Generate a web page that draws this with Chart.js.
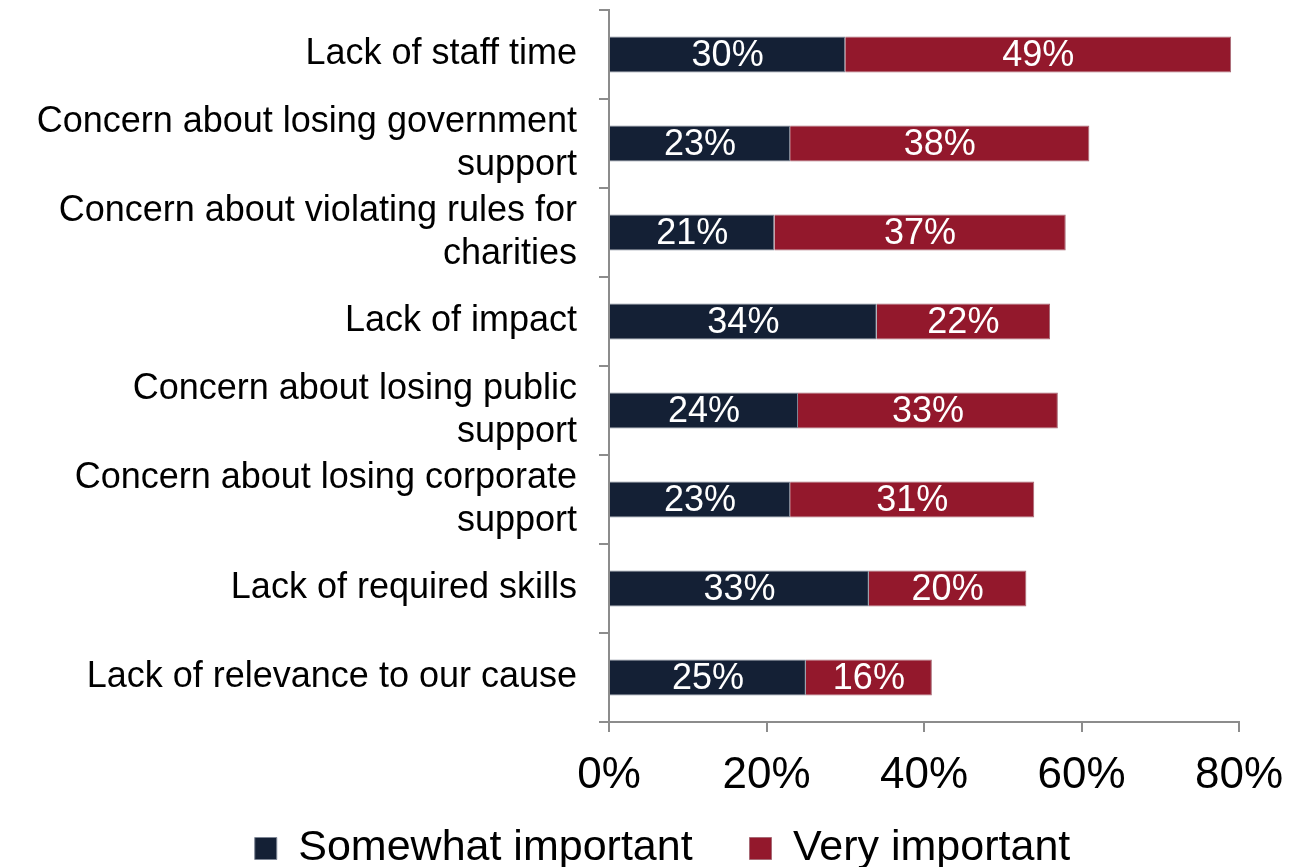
<!DOCTYPE html>
<html>
<head>
<meta charset="utf-8">
<script src="https://cdn.jsdelivr.net/npm/chart.js@4.4.1/dist/chart.umd.min.js"></script>
<style>
  html, body { margin: 0; padding: 0; background: #fff; }
  #wrap { width: 1294px; height: 867px; position: relative; }
</style>
</head>
<body>
<div id="wrap"><canvas id="c"></canvas></div>
<script>
const categories = [
  "Lack of staff time",
  ["Concern about losing government", "support"],
  ["Concern about violating rules for", "charities"],
  "Lack of impact",
  ["Concern about losing public", "support"],
  ["Concern about losing corporate", "support"],
  "Lack of required skills",
  "Lack of relevance to our cause"
];
const somewhatImportant = [30, 23, 21, 34, 24, 23, 33, 25];
const veryImportant = [49, 38, 37, 22, 33, 31, 20, 16];
const seriesNames = ["Somewhat important", "Very important"];
const xTicks = [0, 20, 40, 60, 80];

const FONT = "'Liberation Sans', Arial, sans-serif";
const NAVY = "#142035";
const RED = "#93182C";
const AXIS = "#8c8c8c";

const barLabels = {
  id: 'barLabels',
  afterDatasetsDraw(chart) {
    const ctx = chart.ctx;
    ctx.save();
    ctx.fillStyle = '#ffffff';
    ctx.font = "36px " + FONT;
    ctx.textAlign = 'center';
    ctx.textBaseline = 'middle';
    chart.data.datasets.forEach((ds, di) => {
      const meta = chart.getDatasetMeta(di);
      meta.data.forEach((el, i) => {
        const p = el.getCenterPoint();
        ctx.fillText(ds.data[i] + '%', p.x, p.y + 2);
      });
    });
    ctx.restore();
  }
};

new Chart(document.getElementById('c'), {
  type: 'bar',
  data: {
    labels: categories,
    datasets: [
      { label: seriesNames[0], data: somewhatImportant, backgroundColor: NAVY, borderColor: '#7d8594', borderWidth: 1, barPercentage: 0.405, categoryPercentage: 1 },
      { label: seriesNames[1], data: veryImportant, backgroundColor: RED, borderColor: '#a86a76', borderWidth: 1, barPercentage: 0.405, categoryPercentage: 1 }
    ]
  },
  options: {
    indexAxis: 'y',
    responsive: true,
    maintainAspectRatio: false,
    animation: false,
    layout: { padding: { top: 10, right: -31, left: 0, bottom: -13 } },
    plugins: {
      tooltip: { enabled: false },
      legend: {
        position: 'bottom',
        labels: {
          font: { family: FONT, size: 43 },
          color: '#000',
          boxWidth: 22,
          boxHeight: 22,
          padding: 33,
          generateLabels(chart) {
            const items = Chart.defaults.plugins.legend.labels.generateLabels(chart);
            items.forEach((it, i) => { if (i < items.length - 1) it.text = it.text + '  '; });
            return items;
          }
        }
      }
    },
    scales: {
      x: {
        stacked: true,
        min: 0,
        max: 80,
        afterBuildTicks(scale) { scale.ticks = xTicks.map(v => ({ value: v })); },
        afterFit(scale) { scale.paddingRight = 55; scale.paddingLeft = 0; scale.height = 72; },
        ticks: {
          callback: v => v + '%',
          font: { family: FONT, size: 44 },
          color: '#000',
          padding: 17,
          maxRotation: 0
        },
        grid: { display: true, drawOnChartArea: false, drawTicks: true, tickLength: 10, color: AXIS, lineWidth: 2 },
        border: { display: true, color: AXIS, width: 2 }
      },
      y: {
        stacked: true,
        afterFit(scale) { scale.width = 609; scale.paddingTop = 0; scale.paddingBottom = 0; },
        ticks: {
          font: { family: FONT, size: 36 },
          color: '#000',
          padding: 22,
          autoSkip: false
        },
        grid: { display: true, offset: true, drawOnChartArea: false, drawTicks: true, tickLength: 10, color: AXIS, lineWidth: 2 },
        border: { display: true, color: AXIS, width: 2 }
      }
    }
  },
  plugins: [barLabels]
});
</script>
</body>
</html>
